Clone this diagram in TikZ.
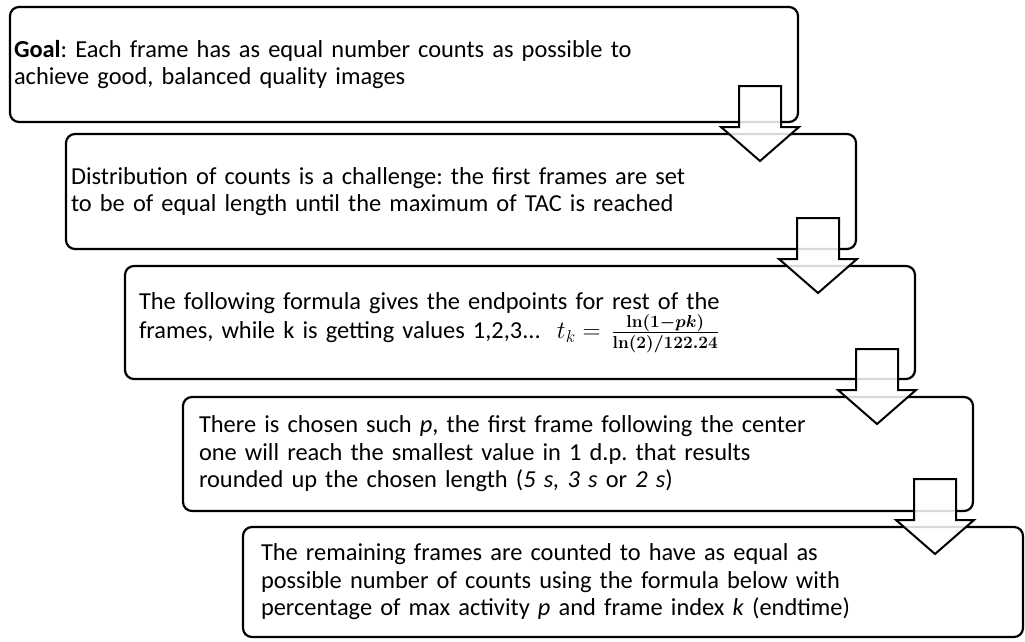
\documentclass[tikz,border=0pt]{standalone}
\usepackage[no-math]{fontspec}
\setmainfont{Carlito}
\usetikzlibrary{calc}
\tikzset{
  flowbox/.style={draw=black, line width=2.2pt, rounded corners=9pt, anchor=north west,
    outer sep=0pt, inner ysep=0pt, align=left,
    font=\fontsize{24.4}{27.5}\selectfont},
  blockarrow/.style={draw=black, line width=2pt, fill=white, fill opacity=0.85, line join=miter}
}
\newcommand\flowarrow[2]{%
  \draw[blockarrow] let \p1=(#1.east), \p2=(#2.north) in
    (\x1-59,\y2+48) -- (\x1-17,\y2+48) -- (\x1-17,\y2+7) -- (\x1+1,\y2+7) --
    (\x1-38,\y2-27) -- (\x1-77,\y2+7) -- (\x1-59,\y2+7) -- cycle;}
\begin{document}
\lineskiplimit=-20pt
\frenchspacing
\begin{tikzpicture}[x=1pt,y=-1pt]
\useasboundingbox (0,0) rectangle (1025,641);
\node[flowbox, minimum height=115pt, inner xsep=4pt, text width=780pt] (b1) at (10,7)
  {\textbf{Goal}: Each frame has as equal number counts as possible to\\achieve good, balanced quality images};
\node[flowbox, minimum height=115pt, inner xsep=5pt, text width=780pt] (b2) at (66,134)
  {Distribution of counts is a challenge: the first frames are set\\to be of equal length until the maximum of TAC is reached};
\node[flowbox, minimum height=113pt, inner xsep=14pt, text width=762pt] (b3) at (125,266)
  {The following formula gives the endpoints for rest of the\\frames, while k is getting values 1,2,3...\ \ $t_k=\,\mbox{\boldmath$\frac{\ln(1-pk)}{\ln(2)/122.24}$}$};
\node[flowbox, minimum height=114pt, inner xsep=16pt, text width=758pt] (b4) at (183,397)
  {There is chosen such \textit{p}, the first frame following the center\\one will reach the smallest value in 1 d.p. that results\\rounded up the chosen length (\textit{5 s, 3 s} or \textit{2 s})};
\node[flowbox, minimum height=110pt, inner xsep=18pt, text width=744pt] (b5) at (243,527)
  {The remaining frames are counted to have as equal as\\possible number of counts using the formula below with\\percentage of max activity \textit{p} and frame index \textit{k} (endtime)};
\flowarrow{b1}{b2}
\flowarrow{b2}{b3}
\flowarrow{b3}{b4}
\flowarrow{b4}{b5}
\end{tikzpicture}
\end{document}
